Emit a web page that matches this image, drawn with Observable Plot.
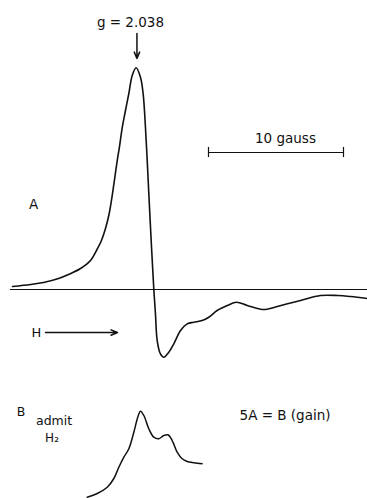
<!DOCTYPE html>
<html>
<head>
<meta charset="utf-8">
<script src="https://cdn.jsdelivr.net/npm/d3@7"></script>
<script src="https://cdn.jsdelivr.net/npm/@observablehq/plot@0.6"></script>
<style>
  html, body { margin: 0; padding: 0; background: #fff; }
  #chart svg { display: block; }
</style>
</head>
<body>
<div id="chart"></div>
<script>
// Field offset from g = 2.038 (gauss) and signal (arbitrary units, peak = 100)
const fieldA = [-9.15,-7.81,-6.85,-5.74,-5.00,-4.11,-3.37,-2.93,-2.56,-2.26,-2.00,-1.74,-1.57,-1.39,-1.21,-1.02,-0.78,-0.53,-0.28,0.01,0.33,0.53,0.70,0.83,0.95,1.15,1.32,1.44,1.57,1.81,2.06,2.43,2.80,3.30,3.79,4.28,4.90,5.39,6.01,6.76,7.44,8.24,9.10,9.59,10.33,11.22,12.19,13.67,14.93,15.89,17.15];
const signalA = [1.36,2.26,3.17,4.98,6.79,9.50,13.12,17.65,22.17,27.60,33.94,43.44,50.68,58.37,65.16,73.30,81.00,88.69,96.83,100.32,96.06,88.55,73.44,58.37,43.30,19.14,0,-10.86,-23.08,-29.10,-30.63,-28.37,-24.57,-18.55,-15.52,-14.80,-14.03,-12.53,-9.50,-7.24,-5.75,-7.24,-8.73,-9.05,-7.92,-6.47,-4.98,-2.71,-2.71,-3.17,-4.07];

const fieldB = [-3.61,-2.87,-2.13,-1.64,-1.27,-0.90,-0.53,-0.16,0.13,0.33,0.58,0.95,1.32,1.69,2.06,2.36,2.68,3.05,3.42,3.79,4.28,4.90];
const signalB = [0.14,1.81,4.66,8.60,13.71,18.24,22.04,29.55,36.33,39.05,37.10,31.09,27.29,26.56,28.05,28.37,25.79,20.50,17.51,16.29,15.70,15.25];

// annotation anchors (gauss, signal)
const baselineSpan = [-9.30, 17.15];
const gArrow = {x: 0.07, yFrom: 115.8, yTo: 104.5};
const scaleBar = {x1: 5.37, x2: 15.37, y: 62.0, tick: 2.3};
const hArrow = {x1: -6.70, x2: -1.37, y: -19.46};

const labelsA = [
  {text: "g = 2.038", x: -0.41, y: 120.8, size: 13.5},
  {text: "10 gauss", x: 11.07, y: 68.3, size: 13.5},
  {text: "A", x: -7.59, y: 38.5, size: 13.5},
  {text: "H", x: -7.37, y: -19.7, size: 13}
];
const labelsB = [
  {text: "B", x: -8.52, y: 38.9, size: 12.5},
  {text: "admit", x: -6.07, y: 34.6, size: 12.5},
  {text: "H\u2082", x: -6.22, y: 27.0, size: 12},
  {text: "5A = B (gain)", x: 11.04, y: 37.1, size: 13.5}
];

const dataA = fieldA.map((x, i) => ({x, y: signalA[i]}));
const dataB = fieldB.map((x, i) => ({x, y: signalB[i]}));
const ink = "#111";
const font = "DejaVu Sans";
const xDomain = [-10.037, 17.148];

const plotA = Plot.plot({
  width: 367, height: 375,
  margin: 0,
  x: {domain: xDomain, axis: null},
  y: {domain: [-38.9, 130.77], axis: null},
  style: {background: "#fff", fontFamily: font},
  marks: [
    Plot.ruleY([0], {x1: baselineSpan[0], x2: baselineSpan[1], stroke: ink, strokeWidth: 1.2}),
    Plot.line(dataA, {x: "x", y: "y", curve: "catmull-rom", stroke: ink, strokeWidth: 1.6}),
    Plot.arrow([gArrow], {x: "x", y1: "yFrom", y2: "yTo", stroke: ink, strokeWidth: 1.5, headLength: 7, headAngle: 45}),
    Plot.arrow([hArrow], {x1: "x1", x2: "x2", y: "y", stroke: ink, strokeWidth: 1.5, headLength: 7, headAngle: 45}),
    Plot.ruleY([scaleBar], {x1: "x1", x2: "x2", y: "y", stroke: ink, strokeWidth: 1.2}),
    Plot.ruleX([scaleBar.x1, scaleBar.x2], {x: d => d, y1: scaleBar.y - scaleBar.tick, y2: scaleBar.y + scaleBar.tick, stroke: ink, strokeWidth: 1.2}),
    Plot.text(labelsA, {x: "x", y: "y", text: "text", fontSize: "size", fill: ink})
  ]
});

const plotB = Plot.plot({
  width: 367, height: 123,
  margin: 0,
  x: {domain: xDomain, axis: null},
  y: {domain: [-0.45, 55.2], axis: null},
  style: {background: "#fff", fontFamily: font},
  marks: [
    Plot.line(dataB, {x: "x", y: "y", curve: "catmull-rom", stroke: ink, strokeWidth: 1.5}),
    Plot.text(labelsB, {x: "x", y: "y", text: "text", fontSize: "size", fill: ink})
  ]
});

document.getElementById("chart").append(plotA, plotB);
</script>
</body>
</html>
